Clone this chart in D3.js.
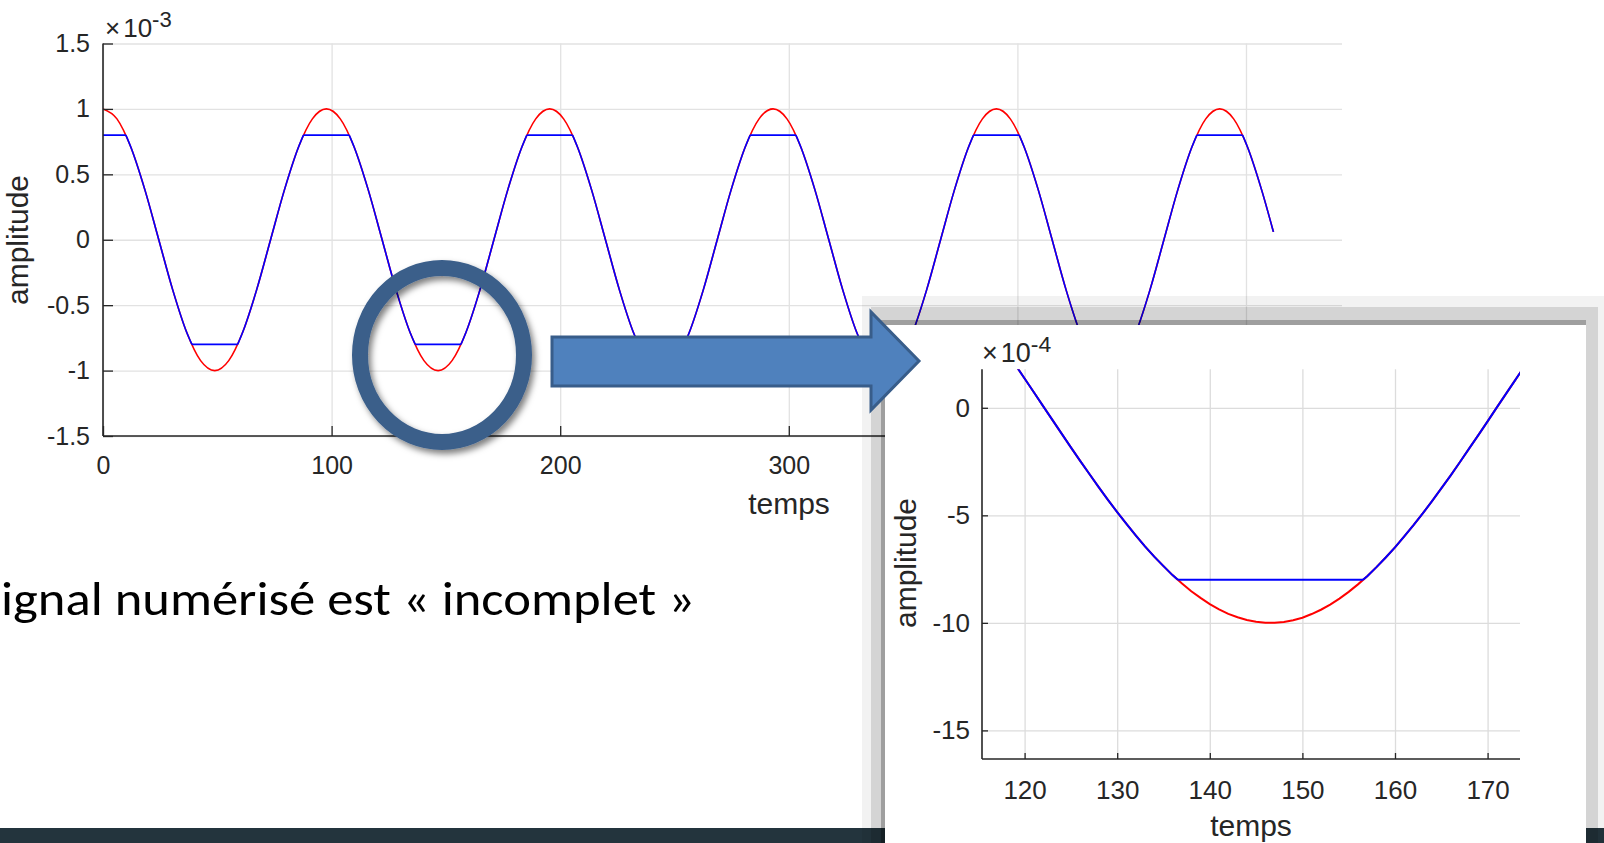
<!DOCTYPE html>
<html><head><meta charset="utf-8">
<script src="https://cdn.jsdelivr.net/npm/d3@7"></script>
<style>body{margin:0;background:#fff;overflow:hidden} svg{display:block}</style>
</head><body>
<svg id="c" width="1604" height="843"></svg>
<script>
// ---------- DATA (main chart, amplitude in 1e-3) ----------
const mainTemps = [
 0,6.1,12.2,18.3,24.4,30.5,36.6,42.7,48.9,55.0,61.1,67.2,73.3,79.4,85.5,91.6,
 97.7,103.8,109.9,116.0,122.1,128.2,134.3,140.4,146.6,152.7,158.8,164.9,171.0,177.1,183.2,189.3,
 195.4,201.5,207.6,213.7,219.8,225.9,232.0,238.1,244.3,250.4,256.5,262.6,268.7,274.8,280.9,287.0,
 293.1,299.2,305.3,311.4,317.5,323.6,329.7,335.8,341.9,348.1,354.2,360.3,366.4,372.5,378.6,384.7,
 390.8,396.9,403.0,409.1,415.2,421.3,427.4,433.5,439.7,445.8,451.9,458.0,464.1,470.2,476.3,482.4,
 488.5,494.6,500.7,506.8,512];
const mainSignal = [
 1,0.924,0.707,0.383,0,-0.383,-0.707,-0.924,-1,-0.924,-0.707,-0.383,0,0.383,0.707,0.924,
 1,0.924,0.707,0.383,0,-0.383,-0.707,-0.924,-1,-0.924,-0.707,-0.383,0,0.383,0.707,0.924,
 1,0.924,0.707,0.383,0,-0.383,-0.707,-0.924,-1,-0.924,-0.707,-0.383,0,0.383,0.707,0.924,
 1,0.924,0.707,0.383,0,-0.383,-0.707,-0.924,-1,-0.924,-0.707,-0.383,0,0.383,0.707,0.924,
 1,0.924,0.707,0.383,0,-0.383,-0.707,-0.924,-1,-0.924,-0.707,-0.383,0,0.383,0.707,0.924,
 1,0.924,0.707,0.383,0.06];
const clippedTemps = [
 0,10.0,
 12.2,18.3,24.4,30.5,36.6,38.9,58.9,
 61.1,67.2,73.3,79.4,85.5,87.7,107.7,
 109.9,116.0,122.1,128.2,134.3,136.6,156.6,
 158.8,164.9,171.0,177.1,183.2,185.4,205.4,
 207.6,213.7,219.8,225.9,232.0,234.3,254.3,
 256.5,262.6,268.7,274.8,280.9,283.1,303.1,
 305.3,311.4,317.5,323.6,329.7,332.0,352.0,
 354.2,360.3,366.4,372.5,378.6,380.8,400.8,
 403.0,409.1,415.2,421.3,427.4,429.7,449.7,
 451.9,458.0,464.1,470.2,476.3,478.5,498.5,
 500.7,506.8,512];
const clippedSignal = [
 0.8,0.8,
 0.707,0.383,0,-0.383,-0.707,-0.8,-0.8,
 -0.707,-0.383,0,0.383,0.707,0.8,0.8,
 0.707,0.383,0,-0.383,-0.707,-0.8,-0.8,
 -0.707,-0.383,0,0.383,0.707,0.8,0.8,
 0.707,0.383,0,-0.383,-0.707,-0.8,-0.8,
 -0.707,-0.383,0,0.383,0.707,0.8,0.8,
 0.707,0.383,0,-0.383,-0.707,-0.8,-0.8,
 -0.707,-0.383,0,0.383,0.707,0.8,0.8,
 0.707,0.383,0,-0.383,-0.707,-0.8,-0.8,
 -0.707,-0.383,0,0.383,0.707,0.8,0.8,
 0.707,0.383,0.06];
const mainXTicks = [0,100,200,300,400,500];
const mainYTicks = [-1.5,-1,-0.5,0,0.5,1,1.5];
const mainYTickLabels = ["-1.5","-1","-0.5","0","0.5","1","1.5"];

// ---------- DATA (zoomed inset, amplitude in 1e-4) ----------
const zoomTemps = [118,119,120,121,122,123,124,125,126,127,128,129,130,131,132,133,134,135,136,137,138,139,140,141,142,143,144,145,146,147,148,149,150,151,152,153,154,155,156,157,158,159,160,161,162,163,164,165,166,167,168,169,170,171,172,173,174];
const zoomSignal = [2.62,2.00,1.36,0.72,0.08,-0.56,-1.20,-1.84,-2.47,-3.08,-3.69,-4.28,-4.85,-5.40,-5.93,-6.44,-6.92,-7.36,-7.79,-8.17,-8.53,-8.84,-9.13,-9.37,-9.58,-9.74,-9.87,-9.95,-9.99,-10.00,-9.96,-9.88,-9.76,-9.59,-9.39,-9.15,-8.87,-8.56,-8.21,-7.83,-7.41,-6.96,-6.49,-5.98,-5.46,-4.91,-4.34,-3.75,-3.15,-2.53,-1.90,-1.27,-0.63,0.02,0.66,1.30,1.93];
const zoomClippedTemps = [118,119,120,121,122,123,124,125,126,127,128,129,130,131,132,133,134,135,136,136.55,156.55,157,158,159,160,161,162,163,164,165,166,167,168,169,170,171,172,173,174];
const zoomClippedSignal = [2.62,2.00,1.36,0.72,0.08,-0.56,-1.20,-1.84,-2.47,-3.08,-3.69,-4.28,-4.85,-5.40,-5.93,-6.44,-6.92,-7.36,-7.79,-8,-8,-7.83,-7.41,-6.96,-6.49,-5.98,-5.46,-4.91,-4.34,-3.75,-3.15,-2.53,-1.90,-1.27,-0.63,0.02,0.66,1.30,1.93];
const zoomXTicks = [120,130,140,150,160,170];
const zoomYTicks = [-15,-10,-5,0];
const zoomYTickLabels = ["-15","-10","-5","0"];

// ---------- TEXTS ----------
const xLabel = "temps", yLabel = "amplitude";
const slideText = "ignal numérisé est « incomplet »";

const svg = d3.select('#c');
const FONT = "'Liberation Sans', Arial, Helvetica, sans-serif";
const AX = '#262626';

const defs = svg.append('defs');
const sh = defs.append('filter').attr('id','shadow').attr('x','-20%').attr('y','-20%').attr('width','140%').attr('height','140%');
sh.append('feDropShadow').attr('dx',3).attr('dy',4).attr('stdDeviation',3).attr('flood-color','#000').attr('flood-opacity',0.5);

svg.append('rect').attr('width',1604).attr('height',843).attr('fill','#fff');

function runsOf(pts){
  const runs=[]; let run=[pts[0]];
  for(let i=1;i<pts.length;i++){
    const flat = pts[i].v===pts[i-1].v;
    const prevFlat = run.length>1 && run[run.length-1].v===run[run.length-2].v;
    if(run.length>1 && flat!==prevFlat){ runs.push(run); run=[pts[i-1]]; }
    run.push(pts[i]);
  }
  runs.push(run); return runs;
}

function drawChart(opt){
  const g = svg.append('g');
  const x = d3.scaleLinear().domain(opt.xDom).range([opt.left,opt.right]);
  const y = d3.scaleLinear().domain(opt.yDom).range([opt.bottom,opt.top]);
  // grid
  g.append('g').attr('transform',`translate(${opt.left},0)`)
    .call(d3.axisLeft(y).tickValues(opt.yTicks).tickSize(-(opt.gridRight-opt.left)).tickFormat(''))
    .call(s=>{s.select('.domain').remove(); s.selectAll('line').attr('stroke',opt.grid).attr('stroke-width',1.3);});
  g.append('g').attr('transform',`translate(0,${opt.bottom})`)
    .call(d3.axisBottom(x).tickValues(opt.xTicks).tickSize(-(opt.bottom-opt.top)).tickFormat(''))
    .call(s=>{s.select('.domain').remove(); s.selectAll('line').attr('stroke',opt.grid).attr('stroke-width',1.3);});
  // lines
  const cid = 'clip'+opt.id;
  defs.append('clipPath').attr('id',cid).append('rect')
    .attr('x',opt.left).attr('y',opt.top).attr('width',opt.right-opt.left).attr('height',opt.bottom-opt.top);
  const lg = g.append('g').attr('clip-path',`url(#${cid})`);
  const red = opt.rT.map((t,i)=>({t,v:opt.rV[i]}));
  const blue = opt.bT.map((t,i)=>({t,v:opt.bV[i]}));
  const line = d3.line().x(d=>x(d.t)).y(d=>y(d.v)).curve(opt.curve);
  lg.append('path').attr('d',line(red)).attr('fill','none').attr('stroke','#ff0000').attr('stroke-width',opt.lw);
  runsOf(blue).forEach(r=>{
    lg.append('path').attr('d',line(r)).attr('fill','none').attr('stroke','#0000ff').attr('stroke-width',opt.lw);
  });
  // axes
  const ya = g.append('g').attr('transform',`translate(${opt.left},0)`)
    .call(d3.axisLeft(y).tickValues(opt.yTicks).tickSize(-opt.tick).tickSizeOuter(0).tickPadding(opt.ypad)
      .tickFormat((d,i)=>opt.yLabels[i]));
  const xa = g.append('g').attr('transform',`translate(0,${opt.bottom})`)
    .call(d3.axisBottom(x).tickValues(opt.xTicks).tickSize(-opt.tick).tickSizeOuter(0).tickPadding(opt.xpad));
  [ya,xa].forEach(a=>{
    a.select('.domain').attr('stroke',AX).attr('stroke-width',1.6);
    a.selectAll('.tick line').attr('stroke',AX).attr('stroke-width',1.3);
    a.selectAll('text').attr('fill',AX).attr('font-family',FONT).attr('font-size',opt.fs);
  });
  xa.select('.domain').attr('d',`M${opt.left},0H${opt.right}`);
  ya.select('.domain').attr('d',`M0,${opt.top}V${opt.bottom}`);
  // labels
  g.append('text').attr('x',opt.xlab[0]).attr('y',opt.xlab[1]).attr('text-anchor','middle')
    .attr('font-family',FONT).attr('font-size',opt.lfs).attr('fill',AX).text(xLabel);
  g.append('text').attr('transform',`translate(${opt.ylab[0]},${opt.ylab[1]}) rotate(-90)`).attr('text-anchor','middle')
    .attr('font-family',FONT).attr('font-size',opt.lfs).attr('fill',AX).text(yLabel);
  // exponent
  const e = g.append('text').attr('x',opt.exp[0]).attr('y',opt.exp[1]).attr('font-family',FONT)
    .attr('font-size',opt.efs).attr('fill',AX);
  e.append('tspan').text('×');
  e.append('tspan').attr('dx',3).text('10');
  e.append('tspan').attr('dy',-10).attr('font-size',opt.efs*0.85).text(opt.expText);
  return g;
}

// ---------- main chart ----------
drawChart({id:'m', xDom:[0,542], yDom:[-1.5,1.5], left:103, right:1342, gridRight:1342, top:43.5, bottom:436,
  xTicks:mainXTicks, yTicks:mainYTicks, yLabels:mainYTickLabels, rT:mainTemps, rV:mainSignal,
  bT:clippedTemps, bV:clippedSignal, curve:d3.curveMonotoneX, lw:1.6, grid:'#e2e2e2',
  tick:10, ypad:13, xpad:20, fs:25, lfs:30, xlab:[789,514], ylab:[28,240],
  exp:[105,37], efs:26, expText:'-3'});

// slide text
svg.append('text').attr('x',1).attr('y',615).attr('font-family',"Carlito, Calibri, Lato, 'Open Sans', sans-serif")
  .attr('font-size',48).attr('font-weight',300).attr('fill','#000').attr('textLength',694).attr('lengthAdjust','spacingAndGlyphs').text(slideText);

// bottom bar
svg.append('rect').attr('x',0).attr('y',828).attr('width',1604).attr('height',15).attr('fill','#23343d');

// circle
svg.append('ellipse').attr('cx',442).attr('cy',355).attr('rx',82).attr('ry',87)
  .attr('fill','none').attr('stroke','#3a5e8a').attr('stroke-width',16).attr('filter','url(#shadow)');

// inset panel with window frame / shadow
svg.append('rect').attr('x',862).attr('y',296).attr('width',742).attr('height',547).attr('fill','rgba(0,0,0,0.05)');
svg.append('rect').attr('x',871).attr('y',307).attr('width',727).attr('height',536).attr('fill','rgba(0,0,0,0.12)');
svg.append('rect').attr('x',881).attr('y',320).attr('width',705).attr('height',523).attr('fill','rgba(0,0,0,0.25)');
svg.append('rect').attr('x',885).attr('y',325).attr('width',701).attr('height',518).attr('fill','#fff');

drawChart({id:'z', xDom:[115.4,173.5], yDom:[-16.33,1.79], left:982, right:1520, gridRight:1520, top:369.3, bottom:759,
  xTicks:zoomXTicks, yTicks:zoomYTicks, yLabels:zoomYTickLabels, rT:zoomTemps, rV:zoomSignal,
  bT:zoomClippedTemps, bV:zoomClippedSignal, curve:d3.curveLinear, lw:2, grid:'#dcdcdc',
  tick:6, ypad:12, xpad:22, fs:26, lfs:30, xlab:[1251,836], ylab:[916,563],
  exp:[982,362], efs:27, expText:'-4'});

// arrow
const arrowPts = [[552,337],[871,337],[871,312],[919,361],[871,410],[871,386],[552,386]];
svg.append('polygon').attr('points',arrowPts.map(p=>p.join(',')).join(' '))
  .attr('fill','#4f81bd').attr('stroke','#385d8a').attr('stroke-width',3).attr('stroke-linejoin','miter');
</script></body></html>
